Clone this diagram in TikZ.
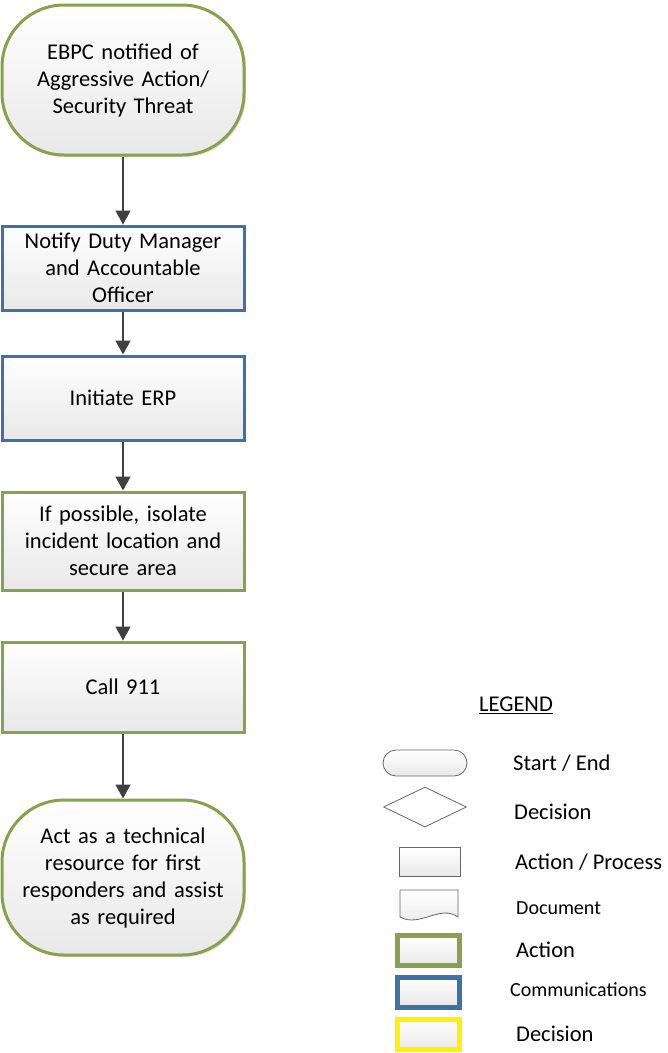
\documentclass[tikz,border=0pt]{standalone}
\usepackage{fontspec}
\setmainfont{Carlito}
\usepackage{xcolor}
\usepackage{tikz}
\usetikzlibrary{positioning,shapes.geometric,arrows.meta,shadows}

\definecolor{actgreen}{RGB}{137,160,76}
\definecolor{commblue}{RGB}{61,114,164}
\definecolor{arrowgray}{RGB}{64,64,64}

\begin{document}
\begin{tikzpicture}[x=1pt, y=1pt, every node/.style={font=\fontsize{22.5pt}{27pt}\selectfont},
    boxfill/.style={top color=white, bottom color=gray!18},
    process/.style={rectangle, boxfill, line width=3pt, minimum width=242pt, minimum height=84pt,
        text width=226pt, align=center, inner sep=0pt,
        drop shadow={shadow xshift=2pt, shadow yshift=-2pt, opacity=0.25}},
    startend/.style={process, rounded corners=62pt},
    greenline/.style={draw=actgreen},
    blueline/.style={draw=commblue},
    flow/.style={-{Triangle[length=14pt, width=15pt]}, line width=1.6pt, draw=arrowgray},
    keytext/.style={anchor=west, inner sep=0pt},
    keybox/.style={rectangle, boxfill, minimum width=62pt, minimum height=30pt, inner sep=0pt}]

    \useasboundingbox (0,0) rectangle (668,-1053);

    % main flow
    \node[startend, greenline, minimum height=150pt] (notified) at (123,-80) {EBPC notified of\\Aggressive Action/\\Security Threat};
    \node[process, blueline, below=68pt of notified] (notify) {Notify Duty Manager\\and Accountable\\Officer};
    \node[process, blueline, below=43pt of notify] (erp) {Initiate ERP};
    \node[process, greenline, below=49pt of erp, minimum height=98pt] (isolate) {If possible, isolate\\incident location and\\secure area};
    \node[process, greenline, below=49pt of isolate, minimum height=90pt] (call) {Call 911};
    \node[startend, greenline, below=65pt of call, minimum height=155pt] (resource) {Act as a technical\\resource for first\\responders and assist\\as required};

    \draw[flow] (notified) -- (notify);
    \draw[flow] (notify) -- (erp);
    \draw[flow] (erp) -- (isolate);
    \draw[flow] (isolate) -- (call);
    \draw[flow] (call) -- (resource);

    % legend
    \node (legend) at (516,-705) {\underline{LEGEND}};

    \node[rectangle, boxfill, draw=gray!80!black, line width=0.8pt, rounded corners=13pt,
        minimum width=84pt, minimum height=26pt] (keystart) at (425,-763) {};
    \node[keytext] (lblstart) at (513,-763) {Start / End};

    \node[diamond, draw=gray!80!black, fill=white, line width=0.8pt, inner sep=0pt,
        minimum width=83pt, minimum height=40pt] (keydecision) at (425,-807) {};
    \node[keytext] (lbldecision) at (514,-812) {Decision};

    \node[keybox, draw=gray!80!black, line width=0.8pt, minimum width=61pt, minimum height=29pt] (keyprocess) at (430,-862) {};
    \node[keytext] (lblprocess) at (515,-862) {Action / Process};

    \shade[top color=white, bottom color=gray!18, draw=gray!80!black, line width=0.8pt]
        (400,-890) -- (458,-890) -- (458,-917)
        .. controls (440,-904) and (420,-928) .. (400,-917) -- cycle;
    \node[keytext, font=\fontsize{20pt}{24pt}\selectfont] (lbldocument) at (516,-908) {Document};

    \node[keybox, draw=actgreen, line width=5pt] (keyaction) at (428.5,-950.5) {};
    \node[keytext] (lblaction) at (516,-950) {Action};

    \node[keybox, draw=commblue, line width=5pt] (keycomm) at (428.5,-992) {};
    \node[keytext, font=\fontsize{20pt}{24pt}\selectfont] (lblcomm) at (510,-990) {Communications};

    \node[keybox, draw=yellow, line width=5pt] (keyyellow) at (428.5,-1034) {};
    \node[keytext] (lblyellow) at (516,-1034) {Decision};
\end{tikzpicture}
\end{document}
